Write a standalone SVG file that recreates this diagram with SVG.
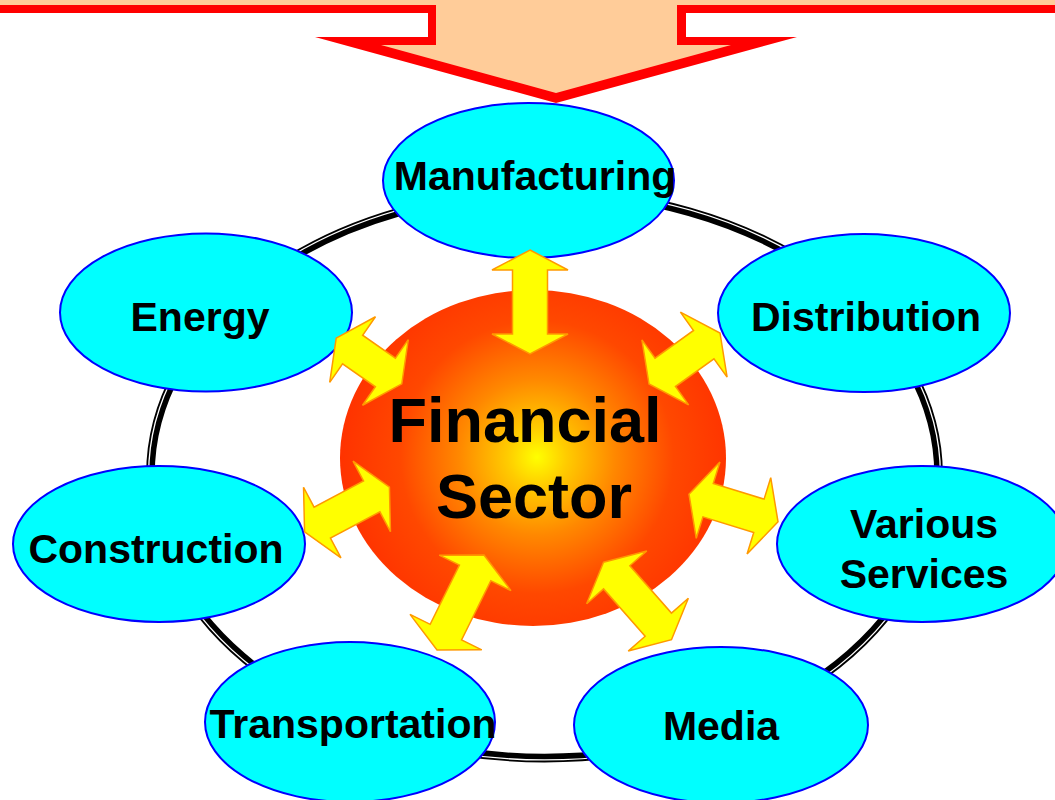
<svg xmlns="http://www.w3.org/2000/svg" width="1055" height="800" viewBox="0 0 1055 800">
<defs>
<radialGradient id="sun" cx="537" cy="457" r="195" gradientUnits="userSpaceOnUse">
<stop offset="0" stop-color="#FFFF00"/>
<stop offset="0.15" stop-color="#FFCC00"/>
<stop offset="0.4" stop-color="#FF8800"/>
<stop offset="0.7" stop-color="#FF4800"/>
<stop offset="1" stop-color="#FF3300"/>
</radialGradient>
</defs>
<style>
.node{fill:#00FFFF;stroke:#0000FF;stroke-width:2}
.lbl{font-family:"Liberation Sans",Arial,sans-serif;font-weight:bold;font-size:41px;fill:#000;text-anchor:middle}
.big{font-family:"Liberation Sans",Arial,sans-serif;font-weight:bold;font-size:63px;fill:#000;text-anchor:middle}
.arr{fill:#FFFF00;stroke:#FF9900;stroke-width:1.5;stroke-linejoin:miter}
.ring{fill:none;stroke:#000}
</style>
<rect width="1055" height="800" fill="#FFFFFF"/>
<g id="ring">
<ellipse class="ring" cx="544.5" cy="475" rx="392.5" ry="281.5" stroke-width="5.5"/>
<ellipse class="ring" cx="544.5" cy="475" rx="397.5" ry="286.5" stroke-width="1.8"/>
</g>
<g id="banner">
<polygon fill="#FF0000" points="-10,-10 1065,-10 1065,13 686,13 686,37 797,37 556,103 315,37 428,37 428,13 -10,13"/>
<polygon fill="#FFCC99" points="-10,-10 1065,-10 1065,5 677,5 677,45 731,45 556,93 381,45 436,45 436,5 -10,5"/>
</g>
<g id="financial-sector">
<ellipse cx="533" cy="458" rx="193" ry="168" fill="url(#sun)"/>
<text class="big" x="525" y="442">Financial</text>
<text class="big" x="534" y="518">Sector</text>
</g>
<g id="manufacturing">
<ellipse class="node" cx="528.5" cy="180.5" rx="145.5" ry="77.5"/>
<text class="lbl" x="535" y="190">Manufacturing</text>
</g>
<g id="energy">
<ellipse class="node" cx="206" cy="312.5" rx="146" ry="79"/>
<text class="lbl" x="200" y="331">Energy</text>
</g>
<g id="distribution">
<ellipse class="node" cx="864" cy="313" rx="146" ry="79"/>
<text class="lbl" x="866" y="331">Distribution</text>
</g>
<g id="construction">
<ellipse class="node" cx="159" cy="544" rx="146" ry="78"/>
<text class="lbl" x="156" y="563">Construction</text>
</g>
<g id="various-services">
<ellipse class="node" cx="922" cy="544" rx="145" ry="78"/>
<text class="lbl" x="924" y="538">Various</text>
<text class="lbl" x="924" y="588">Services</text>
</g>
<g id="transportation">
<ellipse class="node" cx="350" cy="722" rx="145" ry="80"/>
<text class="lbl" x="353" y="738">Transportation</text>
</g>
<g id="media">
<ellipse class="node" cx="721" cy="725" rx="147" ry="78"/>
<text class="lbl" x="721" y="740">Media</text>
</g>
<g id="connectors">
<path class="arr" transform="translate(530,302) rotate(90)" d="M-52,0 L-32,-38 L-32,-17.5 L32,-17.5 L32,-38 L52,0 L32,38 L32,17.5 L-32,17.5 L-32,38 Z"/>
<path class="arr" transform="translate(369,361) rotate(34.9)" d="M-40,0 L-20,-40 L-20,-17.5 L20,-17.5 L20,-40 L40,0 L20,40 L20,17.5 L-20,17.5 L-20,40 Z"/>
<path class="arr" transform="translate(684.5,358.5) rotate(-35.7)" d="M-43.7,0 L-23.7,-40 L-23.7,-17.5 L23.7,-17.5 L23.7,-40 L43.7,0 L23.7,40 L23.7,17.5 L-23.7,17.5 L-23.7,40 Z"/>
<path class="arr" transform="translate(733.5,508) rotate(17.2)" d="M-46.6,0 L-26.6,-40 L-26.6,-17.5 L26.6,-17.5 L26.6,-40 L46.6,0 L26.6,40 L26.6,17.5 L-26.6,17.5 L-26.6,40 Z"/>
<path class="arr" transform="translate(637.5,601) rotate(48.7)" d="M-51.5,0 L-31.5,-40 L-31.5,-17.5 L31.5,-17.5 L31.5,-40 L51.5,0 L31.5,40 L31.5,17.5 L-31.5,17.5 L-31.5,40 Z"/>
<path class="arr" transform="translate(460.5,602.5) rotate(116.3)" d="M-53,0 L-33,-40 L-33,-17.5 L33,-17.5 L33,-40 L53,0 L33,40 L33,17.5 L-33,17.5 L-33,40 Z"/>
<path class="arr" transform="translate(347,509.5) rotate(152.1)" d="M-48,0 L-28,-40 L-28,-17.5 L28,-17.5 L28,-40 L48,0 L28,40 L28,17.5 L-28,17.5 L-28,40 Z"/>
</g>
</svg>
